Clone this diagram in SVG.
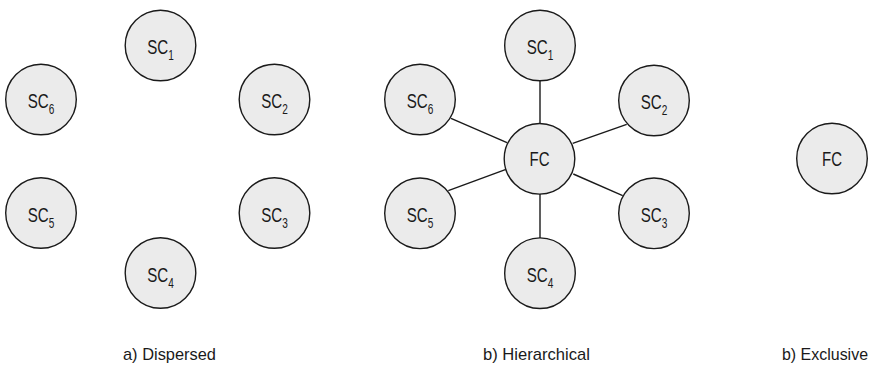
<svg xmlns="http://www.w3.org/2000/svg" width="873" height="368" viewBox="0 0 873 368">
<style>
.node circle{fill:#ebebeb;stroke:#1a1a1a;stroke-width:1.4}
.node text{font-family:"Liberation Sans",Arial,sans-serif;font-size:21px;fill:#1a1a1a;text-anchor:middle}
.node tspan.sub{font-size:14px}
.edges line{stroke:#1a1a1a;stroke-width:1.4}
.cap{font-family:"Liberation Sans",Arial,sans-serif;font-size:16.6px;fill:#1a1a1a}
</style>
<rect width="873" height="368" fill="#fff"/>
<g id="edges" class="edges">
<line x1="540" y1="80" x2="540" y2="124"/>
<line x1="540" y1="194" x2="540" y2="238"/>
<line x1="451" y1="118.3" x2="507" y2="142.7"/>
<line x1="626.7" y1="124.3" x2="572.7" y2="143.3"/>
<line x1="448.3" y1="190.7" x2="506" y2="169.3"/>
<line x1="573.3" y1="174" x2="622.7" y2="195.7"/>
</g>
<g id="a-SC1" class="node"><circle cx="160.5" cy="45.5" r="35.3"/><text transform="translate(160.5,54) scale(0.72,1)">SC<tspan class="sub" dy="6">1</tspan></text></g>
<g id="a-SC2" class="node"><circle cx="274.5" cy="99.5" r="35.3"/><text transform="translate(274.5,108) scale(0.72,1)">SC<tspan class="sub" dy="6">2</tspan></text></g>
<g id="a-SC3" class="node"><circle cx="274.5" cy="213" r="35.3"/><text transform="translate(274.5,221.5) scale(0.72,1)">SC<tspan class="sub" dy="6">3</tspan></text></g>
<g id="a-SC4" class="node"><circle cx="160.5" cy="273" r="35.3"/><text transform="translate(160.5,281.5) scale(0.72,1)">SC<tspan class="sub" dy="6">4</tspan></text></g>
<g id="a-SC5" class="node"><circle cx="41" cy="213" r="35.3"/><text transform="translate(41,221.5) scale(0.72,1)">SC<tspan class="sub" dy="6">5</tspan></text></g>
<g id="a-SC6" class="node"><circle cx="41" cy="99.5" r="35.3"/><text transform="translate(41,108) scale(0.72,1)">SC<tspan class="sub" dy="6">6</tspan></text></g>
<g id="b-FC" class="node"><circle cx="539.5" cy="158.8" r="35.3"/><text transform="translate(539.5,165.8) scale(0.75,1)" style="font-size:20px">FC</text></g>
<g id="b-SC1" class="node"><circle cx="540" cy="45.5" r="35.3"/><text transform="translate(540,54) scale(0.72,1)">SC<tspan class="sub" dy="6">1</tspan></text></g>
<g id="b-SC2" class="node"><circle cx="654" cy="100.5" r="35.3"/><text transform="translate(654,109) scale(0.72,1)">SC<tspan class="sub" dy="6">2</tspan></text></g>
<g id="b-SC3" class="node"><circle cx="654" cy="213.3" r="35.3"/><text transform="translate(654,221.8) scale(0.72,1)">SC<tspan class="sub" dy="6">3</tspan></text></g>
<g id="b-SC4" class="node"><circle cx="540" cy="273.2" r="35.3"/><text transform="translate(540,281.7) scale(0.72,1)">SC<tspan class="sub" dy="6">4</tspan></text></g>
<g id="b-SC5" class="node"><circle cx="420" cy="213.3" r="35.3"/><text transform="translate(420,221.8) scale(0.72,1)">SC<tspan class="sub" dy="6">5</tspan></text></g>
<g id="b-SC6" class="node"><circle cx="420" cy="99.5" r="35.3"/><text transform="translate(420,108) scale(0.72,1)">SC<tspan class="sub" dy="6">6</tspan></text></g>
<g id="c-FC" class="node"><circle cx="832" cy="158.5" r="35.3"/><text transform="translate(832,165.5) scale(0.75,1)" style="font-size:20px">FC</text></g>
<text class="cap" x="123" y="360" textLength="93" lengthAdjust="spacingAndGlyphs">a) Dispersed</text>
<text class="cap" x="483" y="360" textLength="107" lengthAdjust="spacingAndGlyphs">b) Hierarchical</text>
<text class="cap" x="782" y="360" textLength="86" lengthAdjust="spacingAndGlyphs" style="font-size:16px">b) Exclusive</text>
</svg>
